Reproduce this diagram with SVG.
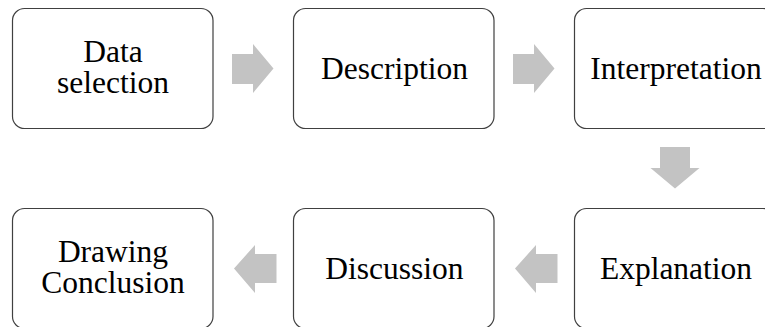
<svg xmlns="http://www.w3.org/2000/svg" width="765" height="327" viewBox="0 0 765 327">
<style>
.box{fill:#ffffff;stroke:#404040;stroke-width:1.2}
.t{font-family:'Liberation Serif','Times New Roman',Tinos,'DejaVu Serif',serif;font-size:31.5px;fill:#000;text-anchor:middle}
.arr{fill:#c3c3c3;stroke:none}
</style>
<rect width="765" height="327" fill="#ffffff"/>
<g id="connectors">
<polygon class="arr" points="232,54 253,54 253,44 273.5,68.5 253,93 253,84 232,84"/>
<polygon class="arr" points="513,54 534,54 534,44 554.5,68.5 534,93 534,84 513,84"/>
<polygon class="arr" points="660,147 690,147 690,168 699.5,168 675,188.5 650.5,168 660,168"/>
<polygon class="arr" points="557.5,254 536,254 536,245 515,268.5 536,293 536,283 557.5,283"/>
<polygon class="arr" points="276.5,254 255,254 255,245 234,268.5 255,293 255,283 276.5,283"/>
</g>
<g id="n1"><rect class="box" x="12.5" y="8.5" width="200.5" height="120" rx="12"/><text class="t" x="113" y="61.7" font-family="Liberation Serif">Data</text><text class="t" x="113" y="93.3">selection</text></g>
<g id="n2"><rect class="box" x="293.5" y="8.5" width="200.5" height="120" rx="12"/><text class="t" x="394.5" y="79.3">Description</text></g>
<g id="n3"><rect class="box" x="574.5" y="8.5" width="200.5" height="120" rx="12"/><text class="t" x="676" y="79.3">Interpretation</text></g>
<g id="n4"><rect class="box" x="574.5" y="208.5" width="200.5" height="120" rx="12"/><text class="t" x="676" y="279.3">Explanation</text></g>
<g id="n5"><rect class="box" x="293.5" y="208.5" width="200.5" height="120" rx="12"/><text class="t" x="394.5" y="279.3">Discussion</text></g>
<g id="n6"><rect class="box" x="12.5" y="208.5" width="200.5" height="120" rx="12"/><text class="t" x="113" y="261.7">Drawing</text><text class="t" x="113" y="293.3">Conclusion</text></g>
</svg>
